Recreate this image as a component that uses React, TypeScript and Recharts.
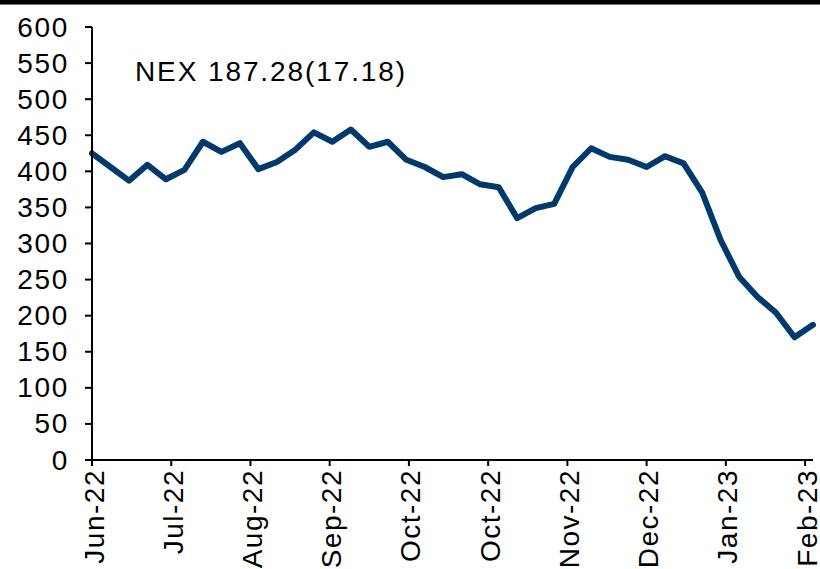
import React from 'react';
import { LineChart, Line, XAxis, YAxis } from 'recharts';

// Weekly NEX index readings, Jun-22 .. Feb-23
const nexValues = [
  425, 406, 387, 409, 389, 402, 441, 427, 439, 403,
  413, 430, 454, 441, 458, 434, 441, 416, 406, 392,
  396, 382, 378, 335, 349, 355, 406, 432, 420, 416,
  406, 421, 411, 371, 305, 254, 226, 204, 170, 187.28,
];
const weekStep = 7; // days between readings
const tickDays = [0, 30, 60, 90, 120, 150, 180, 210, 240, 270];
const tickLabels = ['Jun-22', 'Jul-22', 'Aug-22', 'Sep-22', 'Oct-22', 'Oct-22', 'Nov-22', 'Dec-22', 'Jan-23', 'Feb-23'];
const yTicks = [0, 50, 100, 150, 200, 250, 300, 350, 400, 450, 500, 550, 600];
const titleText = 'NEX 187.28(17.18)';

const data = nexValues.map((v, i) => ({ day: i * weekStep, nex: v }));

const FONT = '"Liberation Sans", Arial, Helvetica, sans-serif';

const XTick = (props: any) => {
  const { x, y, payload } = props;
  const idx = tickDays.indexOf(payload.value);
  const label = idx >= 0 ? tickLabels[idx] : '';
  const tx = x + 2;
  const ty = y + 1;
  return (
    <text
      x={tx}
      y={ty}
      transform={`rotate(-90, ${tx}, ${ty})`}
      textAnchor="end"
      dominantBaseline="central"
      fontFamily={FONT}
      fontSize={28}
      letterSpacing={1.5}
      fill="#000"
    >
      {label}
    </text>
  );
};

const YTick = (props: any) => {
  const { x, y, payload } = props;
  return (
    <text
      x={x - 14}
      y={y}
      textAnchor="end"
      dominantBaseline="central"
      fontFamily={FONT}
      fontSize={28}
      letterSpacing={1.7}
      fill="#000"
    >
      {payload.value}
    </text>
  );
};

export default function App() {
  return (
    <div style={{ position: 'absolute', left: 0, top: 0, width: 820, height: 569, background: '#fff', overflow: 'hidden' }}>
      <LineChart
        width={820}
        height={569}
        data={data}
        margin={{ top: 27, right: 7, left: 0, bottom: 0 }}
      >
        <XAxis
          dataKey="day"
          type="number"
          domain={[0, 273]}
          ticks={tickDays}
          interval={0}
          height={109}
          tickSize={6}
          axisLine={{ stroke: '#000', strokeWidth: 2 }}
          tickLine={{ stroke: '#000', strokeWidth: 2 }}
          tick={<XTick />}
          allowDecimals={false}
        />
        <YAxis
          type="number"
          domain={[0, 600]}
          ticks={yTicks}
          interval={0}
          width={92}
          tickSize={7}
          axisLine={{ stroke: '#000', strokeWidth: 2 }}
          tickLine={{ stroke: '#000', strokeWidth: 2 }}
          tick={<YTick />}
        />
        <Line
          type="linear"
          dataKey="nex"
          stroke="#003A6B"
          strokeWidth={6}
          strokeLinejoin="round"
          strokeLinecap="round"
          dot={false}
          activeDot={false}
          isAnimationActive={false}
        />
      </LineChart>
      <div style={{ position: 'absolute', left: 0, top: 0, width: 820, height: 4, background: '#000' }} />
      <div style={{ position: 'absolute', left: 0, top: 4, width: 820, height: 1, background: '#777' }} />
      <div
        style={{
          position: 'absolute',
          left: 135,
          top: 56,
          fontFamily: FONT,
          fontSize: 28,
          lineHeight: '32px',
          letterSpacing: '1.9px',
          color: '#000',
          whiteSpace: 'nowrap',
        }}
      >
        {titleText}
      </div>
    </div>
  );
}
